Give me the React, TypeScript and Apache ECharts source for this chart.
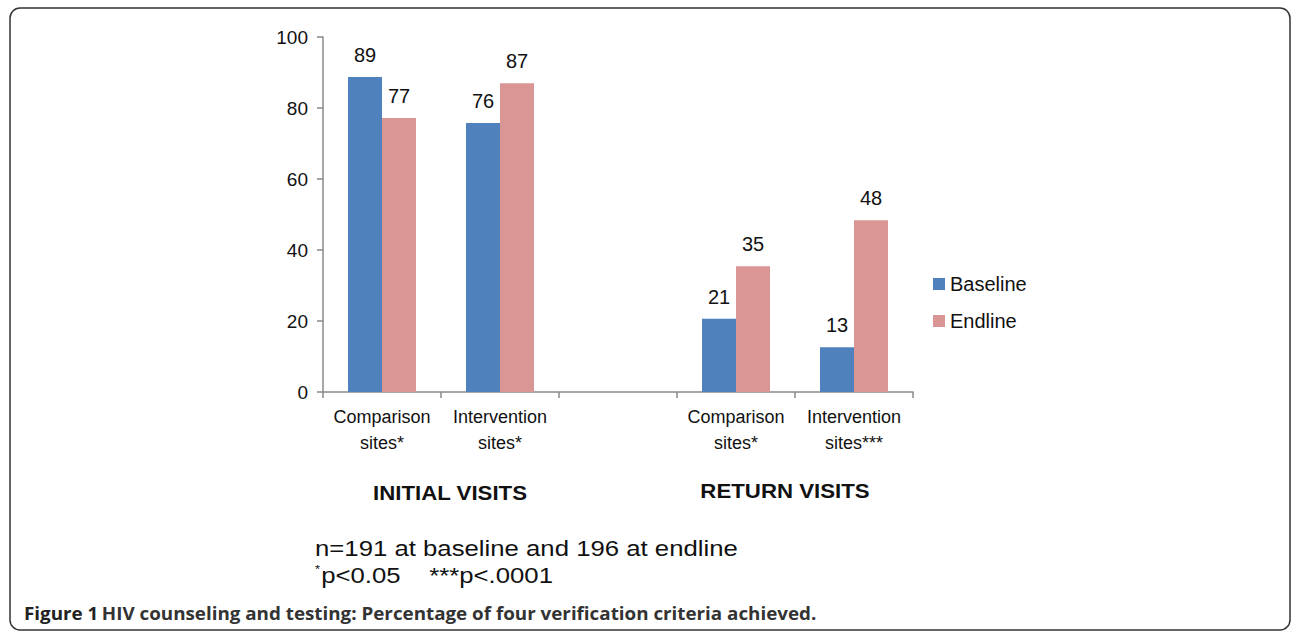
import React, { useEffect, useRef } from "react";
import * as echarts from "echarts";

const categories = ["Comparison\nsites*", "Intervention\nsites*", "", "Comparison\nsites*", "Intervention\nsites***"];
const baseline: (number | string)[] = [88.7, 75.8, "-", 20.6, 12.6];
const endline: (number | string)[] = [77.2, 87.0, "-", 35.4, 48.4];
const yTicks = { min: 0, max: 100, interval: 20 };
const groupLabels = ["INITIAL VISITS", "RETURN VISITS"];
const footnote1 = "n=191 at baseline and 196 at endline";
const caption = "HIV counseling and testing: Percentage of four verification criteria achieved.";

export default function App() {
  const ref = useRef<HTMLDivElement>(null);
  useEffect(() => {
    document.body.style.margin = "0";
    const chart = echarts.init(ref.current!, undefined, { renderer: "svg" });
    const font = "'Liberation Sans', Arial, sans-serif";
    const capFont = "'Open Sans', sans-serif";
    const labelStyle = {
      show: true,
      position: "top" as const,
      distance: 12,
      fontSize: 20,
      color: "#111",
      fontFamily: font,
      formatter: (p: any) => String(Math.round(p.value)),
    };
    chart.setOption({
      animation: false,
      backgroundColor: "#fff",
      textStyle: { fontFamily: font },
      grid: { left: 323, top: 37, width: 590, height: 355, containLabel: false },
      xAxis: {
        type: "category",
        data: categories,
        axisLine: { lineStyle: { color: "#8a8a8a", width: 1.5 } },
        axisTick: { show: true, length: 6, lineStyle: { color: "#8a8a8a", width: 1.5 } },
        axisLabel: { fontSize: 18, color: "#111", lineHeight: 26, margin: 12, interval: 0, fontFamily: font },
      },
      yAxis: {
        type: "value",
        min: yTicks.min,
        max: yTicks.max,
        interval: yTicks.interval,
        splitLine: { show: false },
        axisLine: { show: true, lineStyle: { color: "#8a8a8a", width: 1.5 } },
        axisTick: { show: true, length: 6, lineStyle: { color: "#8a8a8a", width: 1.5 } },
        axisLabel: { fontSize: 19, color: "#111", margin: 15, fontFamily: font },
      },
      legend: {
        orient: "vertical",
        left: 928,
        top: 269,
        itemWidth: 12,
        itemHeight: 12,
        itemGap: 17,
        icon: "rect",
        textStyle: { fontSize: 20, color: "#111", fontFamily: font },
        data: ["Baseline", "Endline"],
      },
      series: [
        {
          name: "Baseline",
          type: "bar",
          data: baseline,
          barWidth: 34,
          barGap: "0%",
          itemStyle: { color: "#4F81BD" },
          label: labelStyle,
        },
        {
          name: "Endline",
          type: "bar",
          data: endline,
          barWidth: 34,
          barGap: "0%",
          itemStyle: { color: "#D99694" },
          label: labelStyle,
        },
      ],
      graphic: [
        {
          type: "rect",
          shape: { x: 10, y: 8, width: 1280, height: 622, r: 10 },
          style: { fill: "none", stroke: "#333", lineWidth: 1.5 },
          silent: true,
        },
        {
          type: "text",
          x: 450,
          y: 493,
          scaleX: 1.06,
          style: { text: groupLabels[0], fontSize: 21, fontWeight: "bold", fill: "#111", align: "center", verticalAlign: "middle", fontFamily: font },
        },
        {
          type: "text",
          x: 785,
          y: 491,
          scaleX: 1.06,
          style: { text: groupLabels[1], fontSize: 21, fontWeight: "bold", fill: "#111", align: "center", verticalAlign: "middle", fontFamily: font },
        },
        {
          type: "text",
          x: 315,
          y: 548,
          scaleX: 1.17,
          style: { text: footnote1, fontSize: 22, fill: "#111", verticalAlign: "middle", fontFamily: font },
        },
        {
          type: "text",
          x: 315,
          y: 575,
          scaleX: 1.17,
          style: {
            text: "{sup|*}{t|p<0.05    ***p<.0001}",
            verticalAlign: "middle",
            rich: {
              sup: { fontSize: 11, verticalAlign: "top", padding: [0, 1, 11, 0], fontFamily: font, fill: "#111" },
              t: { fontSize: 22, fontFamily: font, fill: "#111" },
            },
          },
        },
        {
          type: "text",
          x: 24,
          y: 613,
          scaleX: 1.045,
          style: {
            text: "{b|Figure 1} {n|" + caption + "}",
            verticalAlign: "middle",
            rich: {
              b: { fontSize: 18, fontWeight: "bold", fill: "#222", fontFamily: capFont },
              n: { fontSize: 18, fontWeight: "bold", fill: "#333", fontFamily: capFont },
            },
          },
        },
      ],
    });
    return () => chart.dispose();
  }, []);
  return <div ref={ref} style={{ width: 1292, height: 632 }} />;
}
